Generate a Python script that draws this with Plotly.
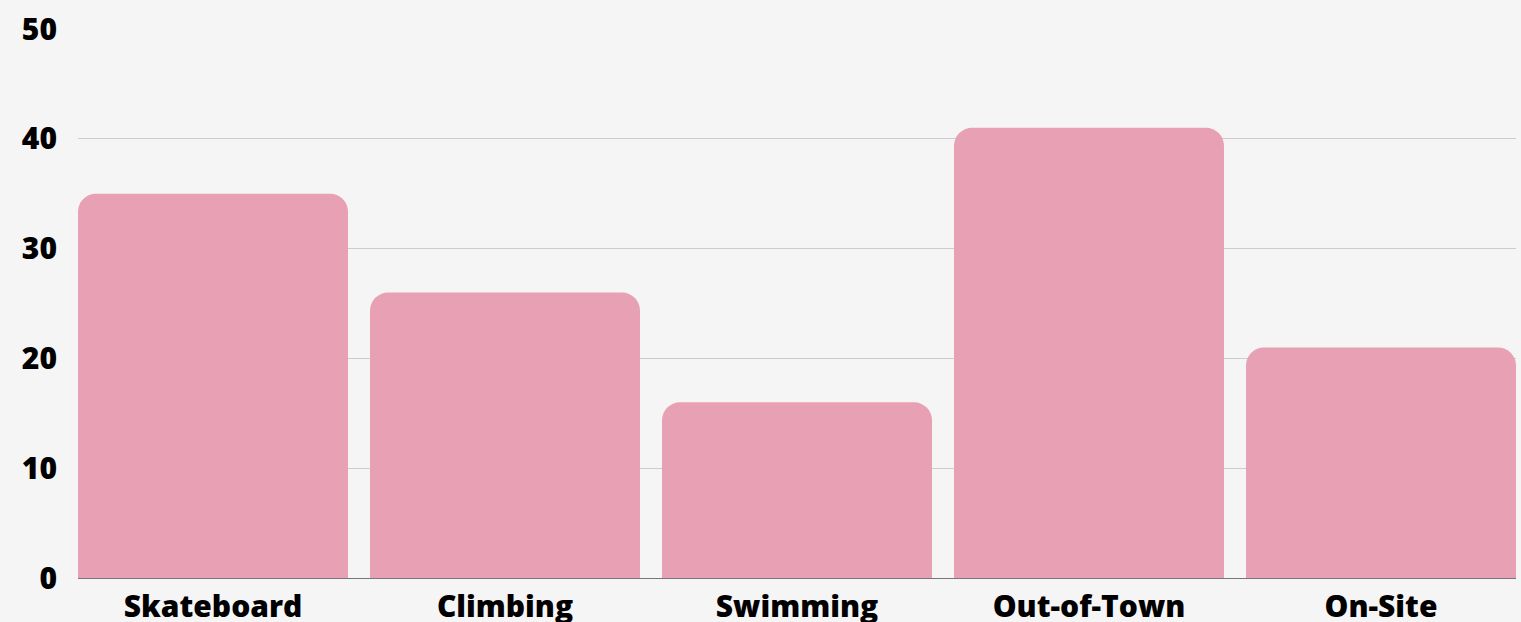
import plotly.graph_objects as go

categories = ["Skateboard", "Climbing", "Swimming", "Out-of-Town", "On-Site"]
values = [35, 26, 16, 41, 21]
y_ticks = [0, 10, 20, 30, 40, 50]

BAR = "#e8a0b4"
BG = "#f5f5f5"
FONT = "Open Sans"
GAP = 0.0753

fig = go.Figure(
    go.Bar(
        x=categories,
        y=values,
        marker=dict(color=BAR, line=dict(width=0), cornerradius=18),
        hoverinfo="x+y",
    )
)

fig.update_layout(
    width=1521,
    height=622,
    paper_bgcolor=BG,
    plot_bgcolor=BG,
    margin=dict(l=78, r=5, t=29, b=44),
    bargap=GAP,
    showlegend=False,
    font=dict(family=FONT, color="#000000"),
)

fig.update_xaxes(
    automargin=False,
    range=[-0.5 + GAP / 2, len(categories) - 0.5 - GAP / 2],
    showgrid=False,
    showline=True,
    linecolor="#777777",
    linewidth=1,
    ticks="",
    tickfont=dict(family=FONT, size=30, color="#000000", weight=800),
    ticklabelstandoff=2,
)

fig.update_yaxes(
    automargin=False,
    range=[0, 50],
    tickvals=y_ticks,
    showgrid=True,
    gridcolor="#cccccc",
    gridwidth=1,
    zeroline=False,
    showline=False,
    ticks="",
    tickfont=dict(family=FONT, size=30, color="#000000", weight=800),
    ticklabelstandoff=20,
)

fig.write_html(
    "out.html",
    config={"displayModeBar": False},
    post_script="document.body.style.margin='0';document.body.style.background='#f5f5f5';document.body.style.overflow='hidden';",
)
